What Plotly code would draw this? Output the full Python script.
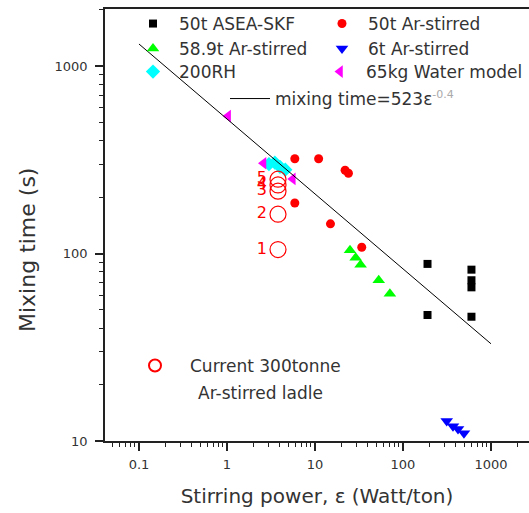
import plotly.graph_objects as go

# ---- data ----
asea_x = [190, 190, 600, 600, 600, 600]
asea_y = [88, 47, 82, 72, 66, 46]

ar50_x = [5.9, 11, 22, 24, 5.9, 15, 34]
ar50_y = [320, 320, 278, 268, 186, 144, 108]

ar589_x = [25, 29, 33, 53, 71]
ar589_y = [104, 95, 87, 72, 61]

ar6_x = [314, 370, 422, 493]
ar6_y = [12.8, 12.0, 11.6, 11.0]

rh200_x = [3.0, 3.5, 4.0, 4.6]
rh200_y = [300, 305, 290, 280]

water_x = [1.03, 2.6, 5.6]
water_y = [541, 303, 250]

fit_x = [0.1, 1000]
fit_y = [1310, 33]

cur_x = [3.8, 3.8, 3.8, 3.8, 3.8]
cur_y = [105, 162, 215, 232, 249]
cur_labels = ["1", "2", "3", "4", "5"]

x_tickvals = [0.1, 1, 10, 100, 1000]
x_ticktext = ["0.1", "1", "10", "100", "1000"]
y_tickvals = [10, 100, 1000]
y_ticktext = ["10", "100", "1000"]

FONT = "DejaVu Sans"
TXT = "#333333"

fig = go.Figure()

fig.add_trace(go.Scatter(x=asea_x, y=asea_y, mode="markers", name="50t ASEA-SKF", showlegend=True,
                         marker=dict(symbol="square", size=8, color="#000000"), legend="legend"))
fig.add_trace(go.Scatter(x=ar50_x, y=ar50_y, mode="markers", name="50t Ar-stirred",
                         marker=dict(symbol="circle", size=9, color="#ff0000"), legend="legend2"))
fig.add_trace(go.Scatter(x=ar589_x, y=ar589_y, mode="markers", name="58.9t Ar-stirred",
                         marker=dict(symbol="triangle-up", size=11, color="#00ff00"), legend="legend3"))
fig.add_trace(go.Scatter(x=ar6_x, y=ar6_y, mode="markers", name="6t Ar-stirred",
                         marker=dict(symbol="triangle-down", size=11, color="#0000ff"), legend="legend4"))
fig.add_trace(go.Scatter(x=rh200_x, y=rh200_y, mode="markers", name="200RH",
                         marker=dict(symbol="diamond", size=11, color="#00ffff"), legend="legend5"))
fig.add_trace(go.Scatter(x=water_x, y=water_y, mode="markers", name="65kg Water model",
                         marker=dict(symbol="triangle-left", size=11, color="#ff00ff"), legend="legend6"))
fig.add_trace(go.Scatter(x=fit_x, y=fit_y, mode="lines",
                         name="mixing time=523ε<sup><span style='color:#aaaaaa;font-size:11px'>-0.4</span></sup>",
                         line=dict(color="#000000", width=1), legend="legend7"))
fig.add_trace(go.Scatter(x=cur_x, y=cur_y, mode="markers+text", name="Current 300tonne",
                         text=cur_labels, textposition="middle left",
                         textfont=dict(family=FONT, size=16, color="#ff0000"),
                         marker=dict(symbol="circle-open", size=16, color="#ff0000", line=dict(width=1.2)),
                         legend="legend8"))

W, H = 529, 513
L, R, T, B = 105, 0, 9, 72
pw, ph = W - L - R, H - T - B


def px(xp):
    return (xp - L) / pw


def py(yp):
    return (H - B - yp) / ph


def leg(sym_x, y, itemwidth, **kw):
    # symbol centre sits at itemwidth/2 + 5 from the legend's left edge
    return dict(orientation="h", font=dict(family=FONT, size=17, color=TXT),
                bgcolor="rgba(0,0,0,0)", xanchor="left", yanchor="middle",
                itemwidth=itemwidth, visible=True,
                x=px(sym_x - itemwidth / 2 - 5), y=py(y), **kw)


fig.update_layout(
    width=W, height=H,
    margin=dict(l=L, r=R, t=T, b=B),
    paper_bgcolor="white", plot_bgcolor="white",
    font=dict(family=FONT, color=TXT),
    showlegend=True,
    legend=leg(153, 24, 42),
    legend2=leg(342, 24, 42),
    legend3=leg(153, 49, 42),
    legend4=leg(342, 49, 42),
    legend5=leg(153, 72, 42),
    legend6=leg(340, 72, 42),
    legend7=leg(250, 99, 40),
    legend8=leg(155, 366, 60, itemsizing="constant"),
    xaxis=dict(type="log", range=[-1.386, 3.432],
               tickvals=x_tickvals, ticktext=x_ticktext,
               ticks="outside", ticklen=8, tickwidth=1.5, tickcolor="#222",
               minor=dict(ticks="outside", ticklen=4, tickwidth=1, tickcolor="#222", dtick="D1", showgrid=False),
               showline=True, linecolor="#222", linewidth=1.5, mirror=True,
               showgrid=False, zeroline=False,
               tickfont=dict(family=FONT, size=13, color=TXT),
               ticklabelstandoff=3,
               title=dict(text="Stirring power, ε (Watt/ton)", font=dict(family=FONT, size=20, color=TXT), standoff=18)),
    yaxis=dict(type="log", range=[1, 3.304],
               tickvals=y_tickvals, ticktext=y_ticktext,
               ticks="outside", ticklen=8, tickwidth=1.5, tickcolor="#222",
               minor=dict(ticks="outside", ticklen=4, tickwidth=1, tickcolor="#222", dtick="D1", showgrid=False),
               showline=True, linecolor="#222", linewidth=1.5,
               showgrid=False, zeroline=False,
               tickfont=dict(family=FONT, size=13, color=TXT),
               ticklabelstandoff=5),
    annotations=[
        dict(text="Ar-stirred ladle", xref="paper", yref="paper",
             x=px(196), y=py(393), xanchor="left", yanchor="middle", showarrow=False,
             font=dict(family=FONT, size=17, color=TXT)),
        dict(text="Mixing time (s)", xref="paper", yref="paper", textangle=-90,
             x=px(27), y=py(250), xanchor="center", yanchor="middle", showarrow=False,
             font=dict(family=FONT, size=22, color=TXT)),
    ],
)

fig.write_html("out.html")
